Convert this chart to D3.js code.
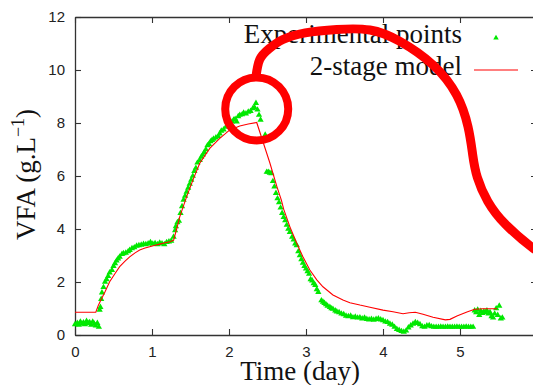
<!DOCTYPE html>
<html><head><meta charset="utf-8">
<script src="https://cdn.jsdelivr.net/npm/d3@7"></script>
<style>body{margin:0;background:#fff}svg{display:block}</style>
</head><body>
<svg id="c" width="533" height="385"></svg>
<script>
// ---- data ----
const expX = [0.00,0.03,0.05,0.07,0.09,0.11,0.13,0.15,0.17,0.19,0.21,0.23,0.25,0.27,0.29,0.31,
0.32,0.33,0.34,0.35,0.37,0.39,0.41,0.43,0.45,0.48,0.50,0.52,0.54,0.56,0.58,0.61,0.63,0.66,0.69,0.71,0.74,0.77,0.80,0.83,0.86,0.89,0.92,0.95,0.98,1.01,1.04,1.07,1.10,1.13,1.16,1.19,1.22,1.25,
1.28,1.30,1.31,1.33,1.35,1.37,1.39,1.41,1.43,1.45,1.47,1.49,1.51,1.53,1.55,1.57,1.59,1.62,1.64,1.66,1.68,1.70,1.72,1.74,1.76,1.78,1.80,1.83,1.86,1.88,1.90,1.93,1.96,1.99,2.02,2.04,2.06,2.08,2.10,2.12,2.14,2.17,2.19,2.22,2.25,2.28,2.31,2.33,2.35,2.37,2.39,2.41,
2.47,2.49,2.51,2.53,2.55,2.57,2.59,2.61,2.63,2.65,2.67,2.69,2.71,2.73,2.75,2.77,2.79,2.82,2.84,2.86,2.88,2.90,2.92,2.94,2.96,2.98,3.00,3.02,3.04,3.06,3.08,3.10,3.12,3.14,3.16,3.20,3.22,3.24,3.26,3.28,3.31,3.33,3.35,3.38,3.40,3.43,3.46,3.49,3.52,3.55,3.58,3.61,3.64,3.67,3.70,3.73,3.76,3.79,3.82,3.85,3.88,3.91,3.94,3.97,4.00,4.03,4.06,4.09,4.12,4.15,4.18,4.21,4.24,4.27,4.30,4.33,4.36,4.39,4.42,4.45,4.48,4.51,4.54,4.57,4.60,4.63,
4.66,4.69,4.72,4.75,4.78,4.81,4.84,4.87,4.90,4.93,4.96,4.99,5.02,5.05,5.08,5.11,5.14,5.17,
5.19,5.21,5.23,5.25,5.27,5.29,5.31,5.33,5.35,5.37,5.39,5.41,5.43,5.45,5.47,5.49,5.51,5.53,5.55];
const expY = [0.40,0.45,0.38,0.50,0.42,0.47,0.40,0.52,0.45,0.48,0.38,0.50,0.42,0.35,0.45,0.30,
0.95,1.05,1.35,1.60,1.80,2.00,2.10,2.22,2.35,2.45,2.60,2.70,2.80,2.88,2.95,3.05,3.08,3.10,3.15,3.20,3.27,3.30,3.36,3.38,3.40,3.43,3.42,3.45,3.50,3.44,3.46,3.42,3.48,3.45,3.42,3.50,3.52,3.55,
3.70,3.95,4.10,4.25,4.30,4.60,4.85,5.10,5.25,5.40,5.55,5.70,5.85,6.00,6.18,6.30,6.50,6.60,6.72,6.80,6.90,7.00,7.15,7.20,7.30,7.35,7.40,7.45,7.50,7.60,7.70,7.75,7.85,7.92,8.00,8.05,8.12,8.15,8.05,8.25,8.30,8.32,8.38,8.35,8.42,8.45,8.55,8.60,8.75,8.50,8.30,8.12,
7.55,6.15,6.15,6.12,6.10,5.80,5.60,5.35,5.15,5.00,4.80,4.60,4.45,4.32,4.15,4.00,3.88,3.70,3.60,3.45,3.38,3.15,3.00,2.85,2.72,2.60,2.50,2.40,2.30,2.10,2.05,1.95,1.88,1.72,1.62,1.30,1.25,1.20,1.15,1.10,1.05,1.00,0.98,0.92,0.88,0.85,0.80,0.78,0.72,0.70,0.72,0.66,0.68,0.65,0.66,0.62,0.65,0.60,0.58,0.60,0.57,0.60,0.62,0.58,0.55,0.50,0.48,0.42,0.38,0.30,0.22,0.18,0.14,0.12,0.16,0.28,0.35,0.42,0.48,0.45,0.40,0.32,0.30,0.35,0.36,0.32,
0.30,0.30,0.30,0.31,0.30,0.30,0.31,0.30,0.30,0.30,0.31,0.30,0.30,0.30,0.31,0.30,0.30,0.30,
0.92,0.85,0.95,0.75,0.90,0.82,0.88,0.85,0.92,0.80,0.85,0.70,0.65,0.80,1.00,0.75,1.10,0.62,0.65];

const modelX = [0,0.27,0.30,0.33,0.39,0.45,0.52,0.58,0.65,0.71,0.78,0.84,0.91,0.97,1.04,1.10,1.17,1.23,1.28,1.32,1.36,1.45,1.54,1.62,1.75,1.88,2.01,2.14,2.25,2.36,2.42,2.53,2.62,2.68,2.71,2.79,2.88,2.96,3.05,3.14,3.22,3.35,3.48,3.57,3.70,3.83,4.00,4.13,4.26,4.34,4.42,4.52,4.65,4.81,4.87,4.96,5.09,5.19,5.30,5.48];
const modelY = [0.86,0.86,1.10,1.28,1.63,2.01,2.32,2.58,2.79,2.95,3.10,3.21,3.28,3.33,3.39,3.43,3.48,3.52,3.57,4.00,4.46,5.22,5.91,6.48,7.04,7.42,7.74,7.89,7.96,8.02,7.48,6.50,5.62,5.09,4.75,4.09,3.46,2.95,2.45,2.08,1.82,1.51,1.32,1.22,1.13,1.05,0.94,0.88,0.80,0.84,0.86,0.78,0.67,0.57,0.59,0.72,0.87,0.97,0.99,0.99];

const xTicks = [0,1,2,3,4,5,6];
const yTicks = [0,2,4,6,8,10,12];
const legendLabels = ["Experimental points","2-stage model"];

// hand-drawn annotation (data units)
const ringCenter = [2.36, 8.53];
const tailX = [2.351,2.40,2.52,2.70,2.99,3.40,3.83,4.22,4.65,4.955,5.104,5.165,5.225,5.36,5.60,5.948,6.104];
const tailY = [9.77,10.40,10.80,11.15,11.40,11.53,11.51,11.08,10.19,9.06,7.86,6.80,5.95,5.05,4.15,3.28,3.02];

// ---- chart ----
const svg = d3.select("#c");
const x = d3.scaleLinear().domain([0,6]).range([75,537]);
const y = d3.scaleLinear().domain([0,12]).range([335,17]);
const axisColor = "#333";
const tickFont = "'Liberation Sans', Arial, sans-serif";
const serif = "'Liberation Serif', 'Times New Roman', serif";

function styleAxis(g){
  g.selectAll("path.domain").attr("stroke", axisColor).attr("stroke-width",1.3);
  g.selectAll(".tick line").attr("stroke", axisColor).attr("stroke-width",1.1);
  g.selectAll(".tick text").attr("fill","#222").style("font-family",tickFont).style("font-size","15px");
}
svg.append("g").attr("transform",`translate(0,${y(0)})`)
  .call(d3.axisBottom(x).tickValues(xTicks).tickFormat(d3.format("d")).tickSize(-6).tickSizeOuter(0).tickPadding(11)).call(styleAxis);
svg.append("g").attr("transform",`translate(0,${y(12)})`)
  .call(d3.axisTop(x).tickValues(xTicks).tickFormat("").tickSize(-6).tickSizeOuter(0)).call(styleAxis);
svg.append("g").attr("transform",`translate(${x(0)},0)`)
  .call(d3.axisLeft(y).tickValues(yTicks).tickFormat(d3.format("d")).tickSize(-6).tickSizeOuter(0).tickPadding(10)).call(styleAxis);
svg.append("g").attr("transform",`translate(${x(6)},0)`)
  .call(d3.axisRight(y).tickValues(yTicks).tickFormat("").tickSize(-6).tickSizeOuter(0)).call(styleAxis);

// experimental points
const green = "#00e800";
const tri = d3.symbol().type(d3.symbolTriangle).size(17);
svg.append("g").selectAll("path").data(expX.map((d,i)=>[d,expY[i]])).join("path")
  .attr("d", tri).attr("fill", green)
  .attr("transform", d=>`translate(${x(d[0])},${y(d[1])})`);

// model line
svg.append("path").datum(modelX.map((d,i)=>[d,modelY[i]]))
  .attr("fill","none").attr("stroke","#ff0000").attr("stroke-width",1.1)
  .attr("d", d3.line().x(d=>x(d[0])).y(d=>y(d[1])));

// axis titles
svg.append("text").attr("x",300).attr("y",380).attr("text-anchor","middle")
  .style("font-family",serif).style("font-size","27px").attr("fill","#111").text("Time (day)");
const yl = svg.append("text").attr("transform","translate(35,174.5) rotate(-90)").attr("text-anchor","middle")
  .style("font-family",serif).style("font-size","27px").attr("fill","#111");
yl.append("tspan").text("VFA (g.L");
yl.append("tspan").attr("dy",-11).style("font-size","18px").text("\u22121");
yl.append("tspan").attr("dy",11).text(")");

// legend
svg.append("text").attr("x",462).attr("y",43.3).attr("text-anchor","end")
  .style("font-family",serif).style("font-size","27px").attr("fill","#111").text(legendLabels[0]);
svg.append("path").attr("d", d3.symbol().type(d3.symbolTriangle).size(13)).attr("fill",green).attr("transform","translate(496,38)");
svg.append("text").attr("x",462).attr("y",75).attr("text-anchor","end")
  .style("font-family",serif).style("font-size","27px").attr("fill","#111").text(legendLabels[1]);
svg.append("line").attr("x1",474).attr("x2",518).attr("y1",70).attr("y2",70)
  .attr("stroke","#ff0000").attr("stroke-width",1.1);

// annotation
svg.append("circle").attr("cx",x(ringCenter[0])).attr("cy",y(ringCenter[1])).attr("r",31.5)
  .attr("fill","none").attr("stroke","#ff0000").attr("stroke-width",8);
svg.append("path").datum(tailX.map((d,i)=>[d,tailY[i]]))
  .attr("fill","none").attr("stroke","#ff0000").attr("stroke-width",9).attr("stroke-linecap","round")
  .attr("d", d3.line().x(d=>x(d[0])).y(d=>y(d[1])).curve(d3.curveNatural));
</script>
</body></html>
